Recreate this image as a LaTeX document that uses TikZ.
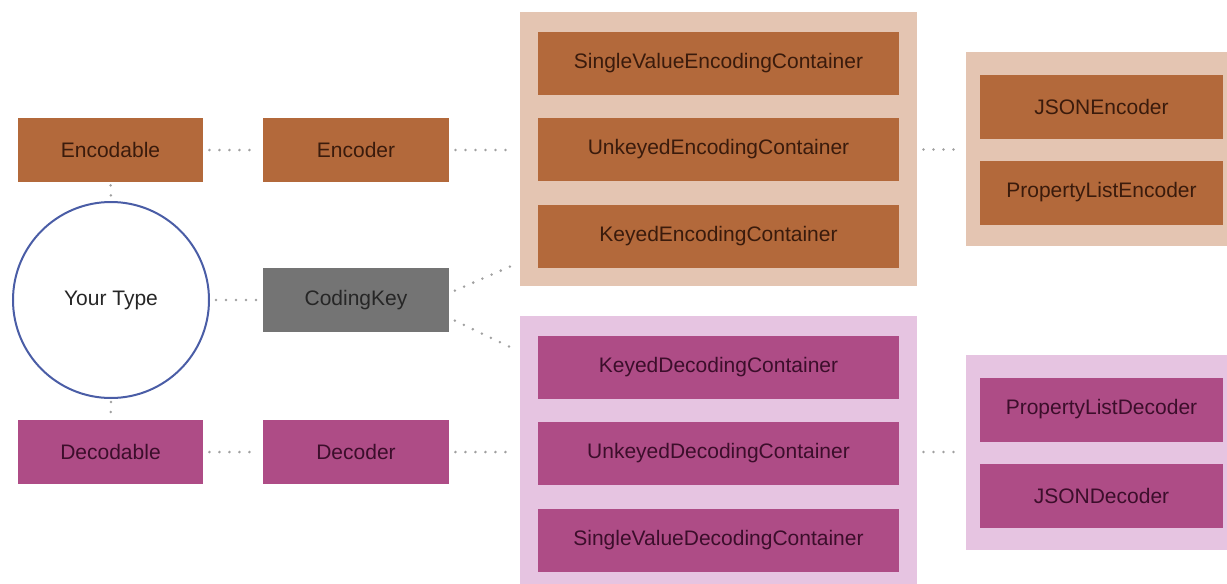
\documentclass[tikz,border=0pt]{standalone}
\usepackage{fontspec}
\setmainfont{Liberation Sans}
\usetikzlibrary{calc}

\definecolor{encfill}{HTML}{B3693B}
\definecolor{encgroup}{HTML}{E4C5B2}
\definecolor{enctext}{HTML}{3A1B0C}
\definecolor{decfill}{HTML}{AE4C86}
\definecolor{decgroup}{HTML}{E6C4E1}
\definecolor{dectext}{HTML}{3C0E2B}
\definecolor{keyfill}{HTML}{747474}
\definecolor{keytext}{HTML}{262626}
\definecolor{ringblue}{HTML}{4A5DA6}
\definecolor{dotgray}{HTML}{A0A0A0}

\tikzset{
  base/.style={rectangle, inner sep=0pt, font=\fontsize{10.5}{12}\selectfont},
  encbox/.style={base, fill=encfill, text=enctext, minimum width=#1, minimum height=32pt},
  decbox/.style={base, fill=decfill, text=dectext, minimum width=#1, minimum height=32pt},
  keybox/.style={base, fill=keyfill, text=keytext, minimum width=93pt, minimum height=32pt},
  encframe/.style={rectangle, inner sep=0pt, fill=encgroup},
  decframe/.style={rectangle, inner sep=0pt, fill=decgroup},
  link/.style={draw=dotgray, line width=1.4pt, line cap=round,
               dash pattern=on 0pt off 5pt, shorten <=3pt, shorten >=3pt},
  shortlink/.style={link, shorten <=1.5pt, shorten >=1.5pt},
}

\begin{document}
\begin{tikzpicture}[x=0.5pt, y=-0.5pt]
\useasboundingbox (0,0) rectangle (1227,584);
\clip (0,0) rectangle (1227,584);

% container groups (backgrounds)
\node[encframe, minimum width=198.5pt, minimum height=137pt] (encgrp) at (718.5,149) {};
\node[decframe, minimum width=198.5pt, minimum height=134pt] (decgrp) at (718.5,450) {};
\node[encframe, minimum width=137pt, minimum height=97pt] (encimpl) at (1103,149) {};
\node[decframe, minimum width=137pt, minimum height=97.5pt] (decimpl) at (1103,452.5) {};

% protocol boxes on the left
\node[encbox=92.5pt] (encodable) at (110.5,150) {Encodable};
\node[encbox=93pt] (encoder) at (356,150) {Encoder};
\node[keybox] (codingkey) at (356,300) {CodingKey};
\node[decbox=92.5pt] (decodable) at (110.5,452) {Decodable};
\node[decbox=93pt] (decoder) at (356,452) {Decoder};

\node[circle, draw=ringblue, line width=1pt, fill=white, minimum size=98pt,
      inner sep=0pt, text=keytext, font=\fontsize{10.5}{12}\selectfont] (yourtype) at (111,300) {Your Type};

% encoding containers
\node[encbox=180.5pt, minimum height=31.5pt] (svec) at (718.5,63.5) {SingleValueEncodingContainer};
\node[encbox=180.5pt, minimum height=31.5pt] (uec) at (718.5,149.5) {UnkeyedEncodingContainer};
\node[encbox=180.5pt, minimum height=31.5pt] (kec) at (718.5,236) {KeyedEncodingContainer};

% decoding containers
\node[decbox=180.5pt, minimum height=31.5pt] (kdc) at (718.5,367.5) {KeyedDecodingContainer};
\node[decbox=180.5pt, minimum height=31.5pt] (udc) at (718.5,453) {UnkeyedDecodingContainer};
\node[decbox=180.5pt, minimum height=31.5pt] (svdc) at (718.5,540) {SingleValueDecodingContainer};

% concrete encoders / decoders
\node[encbox=121.5pt, minimum height=32pt] (jsonenc) at (1101.5,106.5) {JSONEncoder};
\node[encbox=121.5pt, minimum height=32pt] (plistenc) at (1101.5,192.5) {PropertyListEncoder};
\node[decbox=121.5pt, minimum height=32pt] (plistdec) at (1101.5,409.5) {PropertyListDecoder};
\node[decbox=121.5pt, minimum height=32pt] (jsondec) at (1101.5,495.5) {JSONDecoder};

% dotted relations
\draw[link] (encodable.east) -- (encoder.west);
\draw[link] (encoder.east) -- (encoder.east -| encgrp.west);
\draw[link] (encgrp.east |- uec) -- (encimpl.west |- uec);
\draw[shortlink] (encodable.south) -- (yourtype.north);
\draw[link] (yourtype.east) -- (codingkey.west);
\draw[link] ([yshift=3.5pt]codingkey.east) -- ([yshift=12pt]encgrp.south west);
\draw[link] ([yshift=-9pt]codingkey.east) -- ([yshift=-18pt]decgrp.north west);
\draw[shortlink] (yourtype.south) -- (decodable.north);
\draw[link] (decodable.east) -- (decoder.west);
\draw[link] (decoder.east) -- (decoder.east -| decgrp.west);
\draw[link] (decgrp.east |- decoder) -- (decimpl.west |- decoder);
\end{tikzpicture}
\end{document}
